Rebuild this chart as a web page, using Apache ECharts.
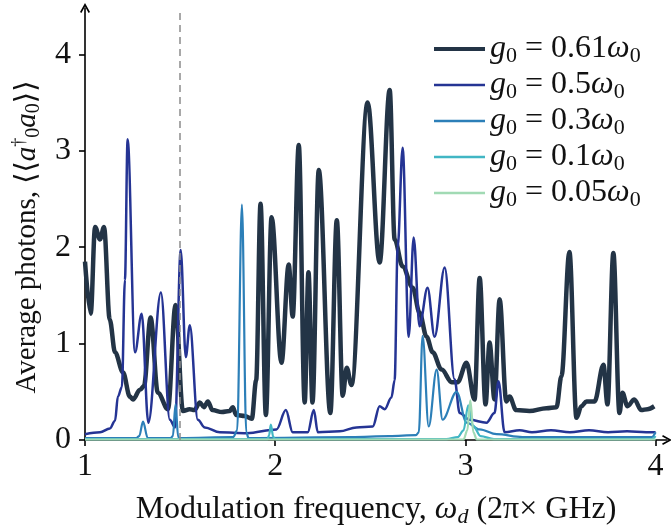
<!DOCTYPE html>
<html>
<head>
<meta charset="utf-8">
<script src="https://cdn.jsdelivr.net/npm/echarts@6/dist/echarts.min.js"></script>
<style>
  html, body { margin: 0; padding: 0; background: #fff; }
  #chart { width: 671px; height: 528px; }
</style>
</head>
<body>
<div id="chart"></div>
<script>
// g0 = 0.61 w0
const x061 = [1.000, 1.030, 1.053, 1.079, 1.100, 1.130, 1.158, 1.200, 1.236, 1.252, 1.289, 1.310, 1.345, 1.383, 1.436, 1.476, 1.515, 1.550, 1.575, 1.604, 1.625, 1.646, 1.670, 1.720, 1.760, 1.777, 1.795, 1.840, 1.877, 1.900, 1.923, 1.951, 1.981, 2.033, 2.071, 2.092, 2.124, 2.155, 2.175, 2.196, 2.229, 2.290, 2.324, 2.355, 2.376, 2.401, 2.486, 2.549, 2.602, 2.628, 2.670, 2.723, 2.759, 2.796, 2.828, 2.875, 2.928, 2.959, 3.006, 3.048, 3.075, 3.106, 3.127, 3.153, 3.180, 3.215, 3.232, 3.267, 3.337, 3.426, 3.479, 3.505, 3.547, 3.584, 3.610, 3.637, 3.679, 3.726, 3.747, 3.778, 3.810, 3.826, 3.852, 3.888, 3.925, 3.957, 3.993];
const y061 = [1.85, 1.31, 2.21, 2.08, 2.21, 1.25, 0.91, 0.70, 0.45, 0.42, 0.52, 0.56, 1.27, 0.49, 0.32, 1.40, 0.30, 0.32, 0.31, 0.39, 0.34, 0.40, 0.31, 0.29, 0.30, 0.34, 0.26, 0.25, 0.22, 0.62, 2.45, 0.26, 2.31, 0.80, 1.82, 1.28, 3.06, 0.39, 1.74, 0.39, 2.80, 0.28, 2.28, 0.46, 0.75, 0.57, 3.50, 1.84, 3.63, 2.08, 1.80, 1.58, 1.32, 1.07, 0.91, 0.73, 0.60, 0.60, 0.80, 0.42, 1.68, 0.37, 1.01, 0.42, 1.46, 0.40, 0.45, 0.31, 0.30, 0.33, 0.34, 0.66, 1.95, 0.23, 0.35, 0.40, 0.40, 0.78, 0.37, 1.94, 0.28, 0.49, 0.35, 0.42, 0.31, 0.32, 0.35];

// g0 = 0.5 w0
const x05 = [1.000, 1.079, 1.131, 1.158, 1.173, 1.194, 1.210, 1.224, 1.263, 1.298, 1.333, 1.399, 1.446, 1.473, 1.503, 1.530, 1.551, 1.593, 1.630, 1.709, 1.851, 2.007, 2.056, 2.092, 2.171, 2.203, 2.224, 2.339, 2.427, 2.513, 2.549, 2.576, 2.611, 2.628, 2.644, 2.670, 2.702, 2.728, 2.759, 2.801, 2.838, 2.891, 2.943, 2.970, 3.022, 3.111, 3.153, 3.174, 3.206, 3.285, 3.350, 3.450, 3.550, 3.650, 3.750, 3.850, 3.950, 4.000];
const y05 = [0.06, 0.08, 0.12, 0.20, 0.45, 0.55, 1.66, 3.12, 0.91, 1.31, 0.18, 1.53, 0.21, 0.13, 1.97, 0.86, 1.19, 0.21, 0.13, 0.08, 0.07, 0.11, 0.31, 0.08, 0.08, 0.31, 0.08, 0.09, 0.13, 0.14, 0.35, 0.32, 0.44, 0.62, 2.00, 3.03, 1.07, 2.10, 1.18, 1.58, 1.07, 1.79, 0.63, 0.28, 0.21, 0.18, 0.28, 0.61, 0.08, 0.10, 0.08, 0.10, 0.08, 0.10, 0.08, 0.09, 0.08, 0.08];

// g0 = 0.3 w0
const x03 = [1.000, 1.270, 1.285, 1.305, 1.330, 1.450, 1.462, 1.476, 1.490, 1.500, 1.780, 1.800, 1.825, 1.848, 1.860, 2.400, 2.600, 2.740, 2.755, 2.775, 2.807, 2.849, 2.880, 2.954, 3.006, 3.075, 3.164, 3.300, 3.900, 3.980, 4.000];
const y03 = [0.02, 0.02, 0.04, 0.19, 0.02, 0.02, 0.04, 0.37, 0.03, 0.02, 0.03, 0.10, 2.44, 0.08, 0.02, 0.03, 0.04, 0.05, 0.08, 1.08, 0.14, 0.73, 0.21, 0.50, 0.18, 0.11, 0.06, 0.03, 0.03, 0.03, 0.08];

// g0 = 0.1 w0
const x01 = [1.000, 1.960, 1.968, 1.977, 1.990, 2.000, 2.900, 2.960, 2.990, 3.015, 3.040, 3.080, 3.150, 3.980, 4.000];
const y01 = [0.01, 0.01, 0.05, 0.16, 0.03, 0.01, 0.01, 0.03, 0.10, 0.36, 0.15, 0.04, 0.01, 0.01, 0.04];

// g0 = 0.05 w0
const x005 = [1.000, 2.990, 3.010, 3.026, 3.042, 3.060, 4.000];
const y005 = [0.005, 0.005, 0.10, 0.41, 0.08, 0.005, 0.005];

const seriesNames = ['g0 = 0.61ω0', 'g0 = 0.5ω0', 'g0 = 0.3ω0', 'g0 = 0.1ω0', 'g0 = 0.05ω0'];
const seriesColors = ['#233446', '#253494', '#2c7fb8', '#41b6c4', '#a1dab4'];
const seriesWidths = [4.5, 2.5, 2.2, 2.2, 2.2];
const legendWidths = [4, 2.5, 2.5, 2.5, 2.5];
const xTicks = [1, 2, 3, 4];
const yTicks = [0, 1, 2, 3, 4];
const markerX = 1.5;

const serif = '"Liberation Serif", "DejaVu Serif", serif';
const fs = 32;
const lh = 36;
const rich = {
  t: { fontFamily: serif, fontSize: fs, lineHeight: lh, color: '#111' },
  i: { fontFamily: serif, fontSize: fs, lineHeight: lh, fontStyle: 'italic', color: '#111' },
  s: { fontFamily: serif, fontSize: 22, lineHeight: 20, color: '#111', verticalAlign: 'bottom' },
  si: { fontFamily: serif, fontSize: 22, lineHeight: 20, fontStyle: 'italic', color: '#111', verticalAlign: 'bottom' },
  p: { fontFamily: serif, fontSize: 20, lineHeight: 18, color: '#111', verticalAlign: 'top' }
};
// slightly smaller set for the rotated y title
const richY = {
  t: { fontFamily: serif, fontSize: 29, lineHeight: 33, fill: '#111' },
  i: { fontFamily: serif, fontSize: 29, lineHeight: 33, fontStyle: 'italic', fill: '#111' },
  s: { fontFamily: serif, fontSize: 20, lineHeight: 18, fill: '#111', verticalAlign: 'bottom' },
  p: { fontFamily: serif, fontSize: 18, lineHeight: 16, fill: '#111', verticalAlign: 'top' }
};

function pairs(xs, ys) {
  return xs.map((x, i) => [x, ys[i]]);
}

const allData = [pairs(x061, y061), pairs(x05, y05), pairs(x03, y03), pairs(x01, y01), pairs(x005, y005)];

const arrow = 'path://M0,9 L5,0 L10,9 L8.6,9.8 L5,3.4 L1.4,9.8 Z';

var myChart = echarts.init(document.getElementById('chart'));

myChart.setOption({
  animation: false,
  backgroundColor: '#fff',
  grid: { left: 85, right: 4, top: 8, bottom: 88, outerBoundsMode: 'none', containLabel: false },
  graphic: [
    {
      type: 'text',
      x: 27,
      y: 237,
      rotation: Math.PI / 2,
      style: {
        text: '{t|Average photons, ⟨⟨}{i|a}{p|†}{s|0}{i|a}{s|0}{t|⟩⟩}',
        rich: richY,
        align: 'center',
        verticalAlign: 'middle'
      }
    }
  ],
  legend: {
    left: 427,
    top: 26,
    orient: 'vertical',
    itemWidth: 51,
    itemHeight: 14,
    itemGap: 0,
    itemStyle: { opacity: 0 },
    data: seriesNames.map(function (name, k) {
      return { name: name, lineStyle: { width: legendWidths[k], color: seriesColors[k] } };
    }),
    textStyle: { rich: rich, lineHeight: lh },
    formatter: function (name) {
      const v = name.match(/= (.*)ω/)[1];
      return '{i|g}{s|0}{t| = ' + v + '}{i|ω}{s|0}';
    }
  },
  xAxis: {
    type: 'value',
    min: 1,
    max: 4.06,
    splitLine: { show: false },
    axisLine: {
      onZero: false,
      lineStyle: { color: '#000', width: 1.6 },
      symbol: ['none', arrow],
      symbolSize: [10, 11]
    },
    axisTick: { customValues: xTicks, length: 6, lineStyle: { color: '#000', width: 1.6 } },
    axisLabel: { customValues: xTicks, fontFamily: serif, fontSize: fs, color: '#111', margin: 11 },
    name: '{t|Modulation frequency, }{i|ω}{si|d}{t| (2π× GHz)}',
    nameLocation: 'middle',
    nameGap: 52,
    nameTextStyle: { rich: rich }
  },
  yAxis: {
    type: 'value',
    min: 0,
    max: 4.48,
    splitLine: { show: false },
    axisLine: {
      onZero: false,
      lineStyle: { color: '#000', width: 1.6 },
      symbol: ['none', arrow],
      symbolSize: [10, 11]
    },
    axisTick: { customValues: yTicks, length: 6, lineStyle: { color: '#000', width: 1.6 } },
    axisLabel: { customValues: yTicks, fontFamily: serif, fontSize: fs, color: '#111', margin: 14 }
  },
  series: seriesNames.map(function (name, k) {
    const s = {
      name: name,
      type: 'line',
      data: allData[k],
      symbol: 'none',
      smooth: 0.35,
      smoothMonotone: 'x',
      lineStyle: { color: seriesColors[k], width: seriesWidths[k] },
      itemStyle: { color: seriesColors[k] }
    };
    if (k === 0) {
      s.markLine = {
        silent: true,
        symbol: ['none', 'none'],
        label: { show: false },
        lineStyle: { type: [7, 5], color: '#8c8c8c', width: 1.5 },
        data: [[{ coord: [markerX, 0] }, { coord: [markerX, 4.43] }]]
      };
    }
    return s;
  })
});

window.addEventListener('resize', () => {
  myChart.resize();
});
</script>
</body>
</html>
